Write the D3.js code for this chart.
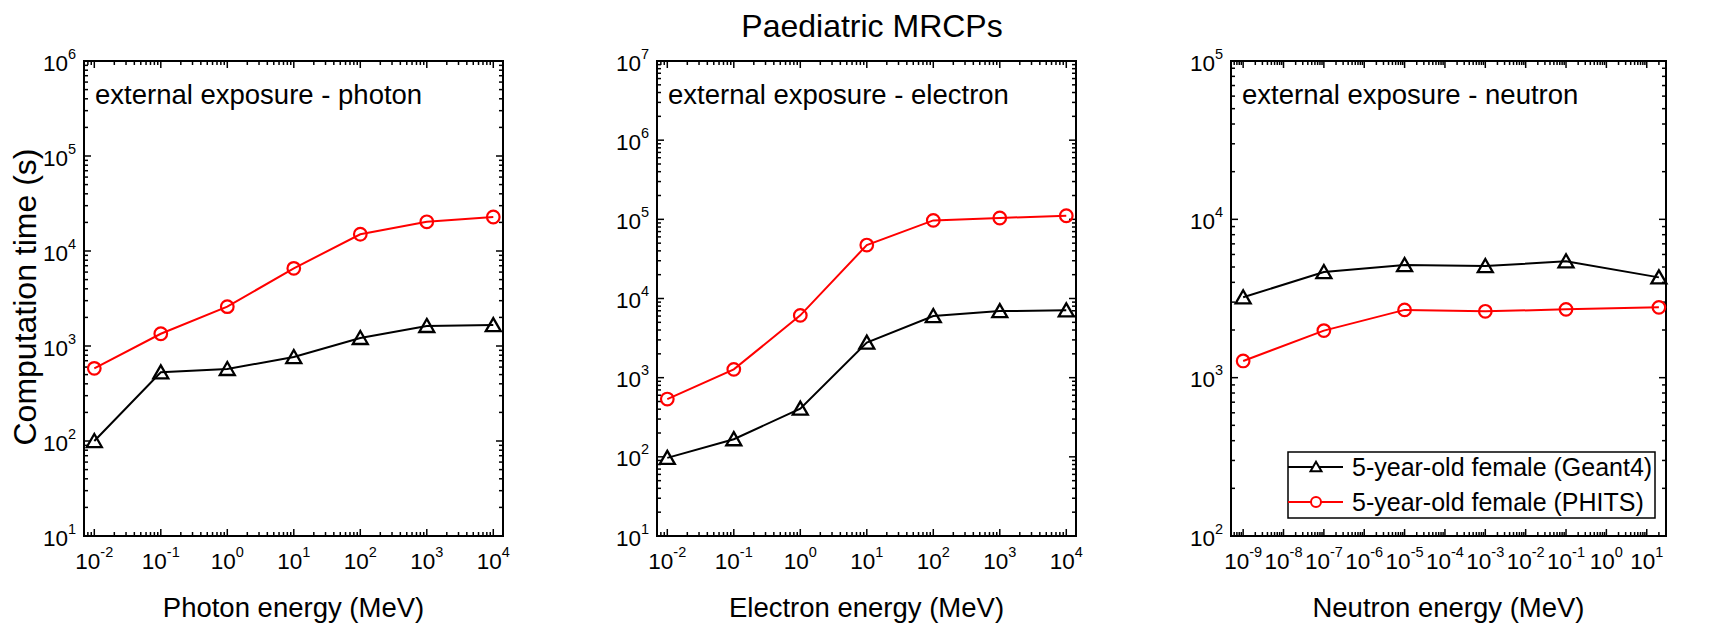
<!DOCTYPE html>
<html>
<head>
<meta charset="utf-8">
<script src="https://cdn.jsdelivr.net/npm/d3@7"></script>
<style>
  html, body { margin: 0; padding: 0; background: #fff; }
  svg { display: block; font-family: "Liberation Sans", Arial, sans-serif; }
</style>
</head>
<body>
<svg id="chart" width="1729" height="628"></svg>
<script>
// ---------------- data ----------------
const chartTitle = "Paediatric MRCPs";
const yAxisTitle = "Computation time (s)";
const seriesNames = ["5-year-old female (Geant4)", "5-year-old female (PHITS)"];

const photonEnergy = [0.01, 0.1, 1, 10, 100, 1000, 10000];
const photonGeant4 = [100, 528, 573, 765, 1214, 1625, 1660];
const photonPHITS  = [582, 1346, 2594, 6570, 15000, 20300, 22800];

const electronEnergy = [0.01, 0.1, 1, 10, 100, 1000, 10000];
const electronGeant4 = [97, 167, 406, 2770, 6000, 6930, 7080];
const electronPHITS  = [537, 1273, 6120, 47300, 97000, 104000, 111000];

const neutronEnergy = [1e-9, 1e-7, 1e-5, 1e-3, 1e-1, 20];
const neutronGeant4 = [3217, 4645, 5145, 5070, 5430, 4300];
const neutronPHITS  = [1275, 1983, 2680, 2625, 2700, 2780];

const panelLabels = ["external exposure - photon", "external exposure - electron", "external exposure - neutron"];
const xAxisTitles = ["Photon energy (MeV)", "Electron energy (MeV)", "Neutron energy (MeV)"];
const photonXTickExps = [-2, -1, 0, 1, 2, 3, 4];
const electronXTickExps = [-2, -1, 0, 1, 2, 3, 4];
const neutronXTickExps = [-9, -8, -7, -6, -5, -4, -3, -2, -1, 0, 1];
const photonYTickExps = [1, 2, 3, 4, 5, 6];
const electronYTickExps = [1, 2, 3, 4, 5, 6, 7];
const neutronYTickExps = [2, 3, 4, 5];

// ---------------- layout ----------------
const svg = d3.select("#chart");
const plotTop = 61, plotBottom = 536;
const panels = [
  { left: 84,   right: 503,  xDomain: [0.007, 14000], yDomain: [10, 1e6],
    x: photonEnergy, g4: photonGeant4, ph: photonPHITS,
    xt: photonXTickExps, yt: photonYTickExps, label: panelLabels[0], xTitle: xAxisTitles[0] },
  { left: 657,  right: 1076, xDomain: [0.007, 14000], yDomain: [10, 1e7],
    x: electronEnergy, g4: electronGeant4, ph: electronPHITS,
    xt: electronXTickExps, yt: electronYTickExps, label: panelLabels[1], xTitle: xAxisTitles[1] },
  { left: 1231, right: 1666, xDomain: [5e-10, 30], yDomain: [100, 1e5],
    x: neutronEnergy, g4: neutronGeant4, ph: neutronPHITS,
    xt: neutronXTickExps, yt: neutronYTickExps, label: panelLabels[2], xTitle: xAxisTitles[2], legend: true }
];

const RED = "#ff0000";
const BLACK = "#000000";
const TICK_FONT = 22.5, SUP_FONT = 14.5;

function minorTicks(domain) {
  const lo = Math.floor(Math.log10(domain[0])), hi = Math.ceil(Math.log10(domain[1]));
  const out = [];
  for (let e = lo; e <= hi; e++) {
    for (let m = 1; m <= 9; m++) {
      const v = m * Math.pow(10, e);
      if (v >= domain[0] * 0.999 && v <= domain[1] * 1.001) out.push({ v, major: m === 1 });
    }
  }
  return out;
}

function triPath(s) {
  const h = s * 0.87;
  return `M0,${-h/2 - 0.5}L${s/2},${h/2 - 0.5}L${-s/2},${h/2 - 0.5}Z`;
}

function powLabel(sel, exp, supDy) {
  sel.append("tspan").text("10");
  sel.append("tspan").attr("dy", supDy).attr("font-size", SUP_FONT).text(String(exp));
}

panels.forEach(p => {
  const x = d3.scaleLog().domain(p.xDomain).range([p.left, p.right]);
  const y = d3.scaleLog().domain(p.yDomain).range([plotBottom, plotTop]);
  const g = svg.append("g");

  // ticks (inward on all four sides)
  const xt = minorTicks(p.xDomain);
  const yt = minorTicks(p.yDomain);
  const tickG = g.append("g").attr("stroke", BLACK).attr("stroke-width", 1.5);
  xt.forEach(t => {
    const L = t.major ? 7 : 4;
    const xx = x(t.v);
    tickG.append("line").attr("x1", xx).attr("x2", xx).attr("y1", plotBottom).attr("y2", plotBottom - L);
    tickG.append("line").attr("x1", xx).attr("x2", xx).attr("y1", plotTop).attr("y2", plotTop + L);
  });
  yt.forEach(t => {
    const L = t.major ? 7 : 4;
    const yy = y(t.v);
    tickG.append("line").attr("y1", yy).attr("y2", yy).attr("x1", p.left).attr("x2", p.left + L);
    tickG.append("line").attr("y1", yy).attr("y2", yy).attr("x1", p.right).attr("x2", p.right - L);
  });

  // frame
  g.append("rect").attr("x", p.left).attr("y", plotTop)
    .attr("width", p.right - p.left).attr("height", plotBottom - plotTop)
    .attr("fill", "none").attr("stroke", BLACK).attr("stroke-width", 2);

  // x tick labels
  p.xt.forEach(e => {
    const t = g.append("text").attr("x", x(Math.pow(10, e))).attr("y", plotBottom + 33)
      .attr("text-anchor", "middle").attr("font-size", TICK_FONT).attr("fill", BLACK);
    powLabel(t, e, -12);
  });
  // y tick labels
  p.yt.forEach(e => {
    const t = g.append("text").attr("x", p.left - 8).attr("y", y(Math.pow(10, e)) + 9.5)
      .attr("text-anchor", "end").attr("font-size", TICK_FONT).attr("fill", BLACK);
    powLabel(t, e, -12);
  });

  // panel label
  g.append("text").attr("x", p.left + 11).attr("y", 104).attr("font-size", 27.5).text(p.label);

  // x axis title
  g.append("text").attr("x", (p.left + p.right) / 2).attr("y", 617)
    .attr("text-anchor", "middle").attr("font-size", 27.5).text(p.xTitle);

  // series
  const line = d3.line().x(d => x(d[0])).y(d => y(d[1]));
  const g4 = p.x.map((v, i) => [v, p.g4[i]]);
  const ph = p.x.map((v, i) => [v, p.ph[i]]);

  g.append("path").datum(g4).attr("d", line).attr("fill", "none").attr("stroke", BLACK).attr("stroke-width", 2);
  g.append("path").datum(ph).attr("d", line).attr("fill", "none").attr("stroke", RED).attr("stroke-width", 2);

  g.selectAll(".tri").data(g4).enter().append("path")
    .attr("d", triPath(15)).attr("transform", d => `translate(${x(d[0])},${y(d[1])})`)
    .attr("fill", "none").attr("stroke", BLACK).attr("stroke-width", 2.3);
  g.selectAll(".circ").data(ph).enter().append("circle")
    .attr("cx", d => x(d[0])).attr("cy", d => y(d[1])).attr("r", 6.3)
    .attr("fill", "none").attr("stroke", RED).attr("stroke-width", 2.2);

  if (p.legend) {
    const lg = g.append("g");
    lg.append("rect").attr("x", 1288).attr("y", 452).attr("width", 367).attr("height", 66)
      .attr("fill", "#fff").attr("stroke", BLACK).attr("stroke-width", 1.5);
    const rows = [{ name: seriesNames[0], color: BLACK, y: 467, sym: "tri" },
                  { name: seriesNames[1], color: RED, y: 502, sym: "circ" }];
    rows.forEach(r => {
      lg.append("line").attr("x1", 1288).attr("x2", 1343).attr("y1", r.y).attr("y2", r.y)
        .attr("stroke", r.color).attr("stroke-width", 2);
      if (r.sym === "tri") {
        lg.append("path").attr("d", triPath(11)).attr("transform", `translate(1316,${r.y})`)
          .attr("fill", "#fff").attr("stroke", r.color).attr("stroke-width", 2);
      } else {
        lg.append("circle").attr("cx", 1316).attr("cy", r.y).attr("r", 5)
          .attr("fill", "#fff").attr("stroke", r.color).attr("stroke-width", 2);
      }
      lg.append("text").attr("x", 1352).attr("y", r.y + 9).attr("font-size", 25).text(r.name);
    });
  }
});

// title
svg.append("text").attr("x", 872).attr("y", 37).attr("text-anchor", "middle")
  .attr("font-size", 32).text(chartTitle);

// y axis title
svg.append("text").attr("transform", "translate(36,297) rotate(-90)")
  .attr("text-anchor", "middle").attr("font-size", 32).text(yAxisTitle);
</script>
</body>
</html>
